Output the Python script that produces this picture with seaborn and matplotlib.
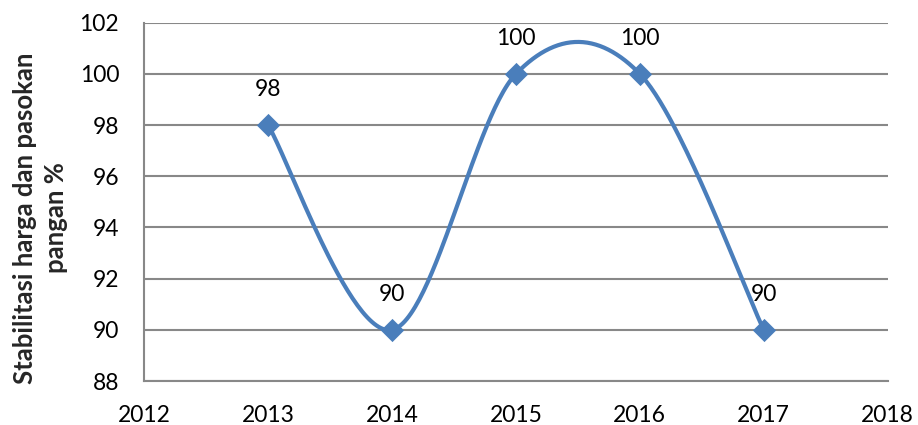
import numpy as np
import pandas as pd
import matplotlib
matplotlib.use("Agg")
import matplotlib.pyplot as plt
import seaborn as sns

# data
years = [2013, 2014, 2015, 2016, 2017]
values = [98, 90, 100, 100, 90]
value_labels = ["98", "90", "100", "100", "90"]
x_ticks = [2012, 2013, 2014, 2015, 2016, 2017, 2018]
y_ticks = [88, 90, 92, 94, 96, 98, 100, 102]

LINE_COLOR = "#4A7EBB"
GRID_COLOR = "#888888"


def excel_smooth(xs, ys, n=60):
    """Excel-style smoothed line (Catmull-Rom as cubic Bezier)."""
    pts = np.column_stack([xs, ys]).astype(float)
    out = []
    for i in range(len(pts) - 1):
        p0 = pts[i - 1] if i > 0 else pts[i]
        p1, p2 = pts[i], pts[i + 1]
        p3 = pts[i + 2] if i + 2 < len(pts) else pts[i + 1]
        c1 = p1 + (p2 - p0) / 6.0
        c2 = p2 - (p3 - p1) / 6.0
        t = np.linspace(0, 1, n)[:, None]
        seg = ((1 - t) ** 3) * p1 + 3 * ((1 - t) ** 2) * t * c1 \
            + 3 * (1 - t) * t ** 2 * c2 + t ** 3 * p2
        out.append(seg if i == 0 else seg[1:])
    return np.vstack(out)


sns.set_style("white")
plt.rcParams["font.family"] = ["Lato", "DejaVu Sans"]

df = pd.DataFrame({"year": years, "value": values})
curve = excel_smooth(df["year"], df["value"])

fig = plt.figure(figsize=(9.18, 4.25), dpi=100)
ax = fig.add_axes([0.157, 0.1035, 0.81, 0.843])

ax.plot(curve[:, 0], curve[:, 1], color=LINE_COLOR, lw=3.0, zorder=3,
        solid_capstyle="round")
sns.scatterplot(data=df, x="year", y="value", marker="D", s=140,
                color=LINE_COLOR, edgecolor=LINE_COLOR, linewidth=0,
                ax=ax, zorder=4)

for x, y, lab in zip(years, values, value_labels):
    ax.annotate(lab, (x, y), xytext=(0, 21), textcoords="offset points",
                ha="center", va="baseline", fontsize=16.5, color="black")

ax.set_xlim(2012, 2018)
ax.set_ylim(88, 102)
ax.set_xticks(x_ticks)
ax.set_yticks(y_ticks)
ax.yaxis.grid(True, color=GRID_COLOR, lw=1.5)
ax.set_axisbelow(True)

for s in ["top", "right"]:
    ax.spines[s].set_visible(False)
for s in ["left", "bottom"]:
    ax.spines[s].set_color(GRID_COLOR)
    ax.spines[s].set_linewidth(1.5)

ax.tick_params(axis="both", which="both", direction="out", length=6,
               width=1.5, color=GRID_COLOR, labelsize=16.5, labelcolor="black")
ax.tick_params(axis="x", pad=11)
ax.tick_params(axis="y", pad=12)

ax.set_xlabel("")
ax.set_ylabel("Stabilitasi harga dan pasokan\npangan %", fontsize=18.5,
              fontweight="bold", linespacing=1.35, va="center")
ax.yaxis.set_label_coords(-0.14, 0.455)

plt.savefig("out.png", dpi=100)
plt.close()
